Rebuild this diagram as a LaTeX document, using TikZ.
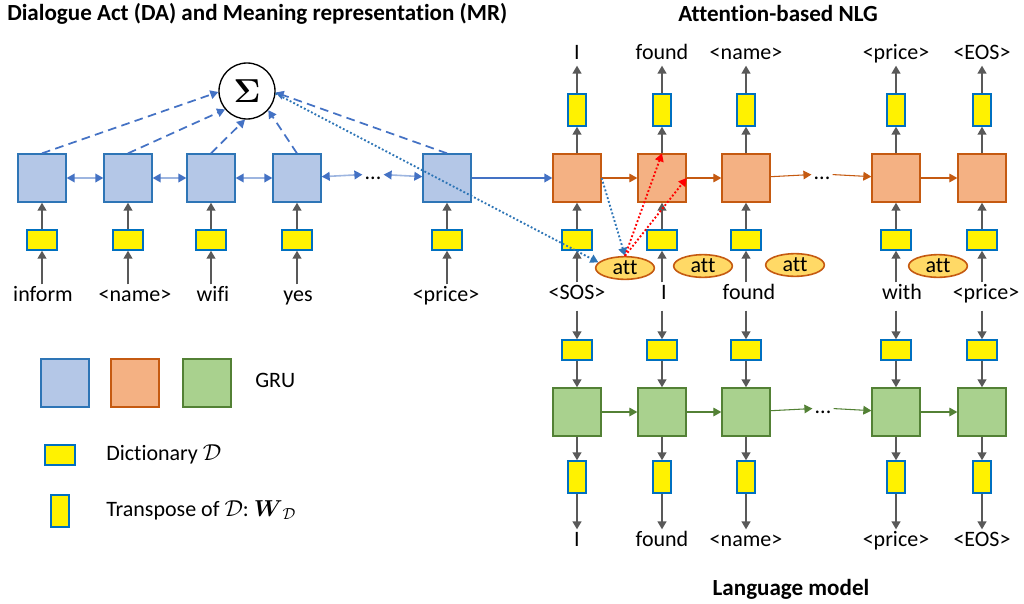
\documentclass[tikz,border=0pt]{standalone}
\usepackage{amsmath}
\usepackage{fontspec}
\setmainfont{Carlito}[Ligatures=NoCommon]
\usetikzlibrary{arrows.meta,shapes.geometric}

\definecolor{gruBlue}{HTML}{B4C7E7}
\definecolor{gruBlueLine}{HTML}{2E75B6}
\definecolor{gruOrange}{HTML}{F4B183}
\definecolor{gruOrangeLine}{HTML}{C55A11}
\definecolor{gruGreen}{HTML}{A9D18E}
\definecolor{gruGreenLine}{HTML}{538135}
\definecolor{dictLine}{HTML}{0070C0}
\definecolor{attFill}{HTML}{FFD966}
\definecolor{arrGrey}{HTML}{595959}
\definecolor{arrBlue}{HTML}{4472C4}
\definecolor{linkBlue}{HTML}{9DB5E0}

\newcommand\wordfont{\fontsize{16.5}{18}\selectfont}
\newcommand\titlefont{\fontsize{17.3}{19}\selectfont\bfseries}

\tikzset{
  gru/.style={draw, line width=1.5pt, minimum size=35.5pt, inner sep=0pt},
  gruda/.style={gru, fill=gruBlue, draw=gruBlueLine},
  grunlg/.style={gru, fill=gruOrange, draw=gruOrangeLine},
  grulm/.style={gru, fill=gruGreen, draw=gruGreenLine},
  dict/.style={draw=dictLine, fill=yellow, line width=1.5pt, minimum width=22pt, minimum height=14.5pt, inner sep=0pt},
  dictT/.style={draw=dictLine, fill=yellow, line width=1.5pt, minimum width=14pt, minimum height=23.5pt, inner sep=0pt},
  att/.style={ellipse, draw=gruOrangeLine, fill=attFill, line width=1.2pt, minimum width=44pt, minimum height=17pt, inner sep=0pt, font=\wordfont},
  word/.style={font=\wordfont, inner sep=1.5pt, text height=11pt, text depth=3pt},
  title/.style={font=\titlefont, inner sep=0pt},
  sigma/.style={circle, draw, line width=1pt, fill=white, minimum size=42pt, inner sep=0pt, font=\fontsize{23}{23}\selectfont},
  io/.style={draw=arrGrey, line width=1.5pt, -{Triangle[length=6pt,width=6.5pt]}},
  lnk/.style={draw=linkBlue, line width=1.2pt, {Triangle[length=6pt,width=6.5pt,color=arrBlue]}-{Triangle[length=6pt,width=6.5pt,color=arrBlue]}},
  fwdnlg/.style={draw=gruOrangeLine, line width=0.8pt, -{Triangle[length=6pt,width=6.5pt]}},
  fwdlm/.style={draw=gruGreenLine, line width=0.8pt, -{Triangle[length=6pt,width=6.5pt]}},
  dsh/.style={draw=arrBlue, line width=1.3pt, dash pattern=on 6.5pt off 4pt, -{Triangle[length=6pt,width=6.5pt]}},
  dtblue/.style={draw=gruBlueLine, line width=1.4pt, dash pattern=on 1.4pt off 1.6pt, -{Triangle[length=6pt,width=6.5pt]}},
  dtred/.style={draw=red, line width=1.4pt, dash pattern=on 1.4pt off 1.6pt, -{Triangle[length=6pt,width=6.5pt]}}
}

\begin{document}
\begin{tikzpicture}[x=0.75pt, y=-0.75pt]
  \useasboundingbox (0,0) rectangle (1024,603);

  % titles
  \node[title, anchor=west] (tda) at (7,14) {Dialogue Act (DA) and Meaning representation (MR)};
  \node[title] (tnlg) at (778,13) {Attention-based NLG};
  \node[title] (tlm) at (791,589) {Language model};

  % encoder over the DA and MR
  \foreach \i/\x/\w/\wx in {1/42/inform/43, 2/128/<name>/135, 3/211/wifi/213, 4/297/yes/298, 5/447/<price>/446} {
    \node[gruda] (b\i) at (\x,178) {};
    \node[dict] (bd\i) at (\x,240) {};
    \node[word] (bw\i) at (\wx,296) {\w};
    \draw[io] (bw\i.north -| bd\i) -- (bd\i);
    \draw[io] (bd\i) -- (b\i);
  }
  \node[word] (bdots) at (373,174) {...};
  \draw[lnk] (b1) -- (b2);
  \draw[lnk] (b2) -- (b3);
  \draw[lnk] (b3) -- (b4);
  \draw[lnk] (b4) -- (bdots);
  \draw[lnk] (bdots) -- (b5);

  % sum
  \node[sigma] (sig) at (247,91) {$\boldsymbol{\Sigma}$};
  \draw[dsh] (b1.north) -- (sig.182);
  \draw[dsh] (b2.north) -- (sig.220);
  \draw[dsh] (b3.north) -- (sig.266);
  \draw[dsh] (b4.north) -- (sig.-42);
  \draw[dsh] (b5.north) -- (sig.-3);

  % decoder and language model
  \foreach \i/\x/\m/\mx/\o in {1/577/<SOS>/577/I, 2/662/I/664/found, 3/746/found/749/<name>, 4/896/with/902/<price>, 5/982/<price>/986/<EOS>} {
    \node[grunlg] (o\i) at (\x,178) {};
    \node[dict] (od\i) at (\x,240) {};
    \node[dictT] (ot\i) at (\x,110) {};
    \node[word] (ow\i) at (\x,54) {\o};
    \node[word] (mw\i) at (\mx,294) {\m};
    \node[dict] (gd\i) at (\x,350) {};
    \node[grulm] (g\i) at (\x,412) {};
    \node[dictT] (gt\i) at (\x,477) {};
    \node[word] (lw\i) at (\x,541) {\o};
    \draw[io] (mw\i.north -| od\i) -- (od\i);
    \draw[io] (od\i) -- (o\i);
    \draw[io] (o\i) -- (ot\i);
    \draw[io] (ot\i) -- (ow\i.south -| ot\i);
    \draw[io] (mw\i.south -| gd\i) ++(0,5) -- (gd\i);
    \draw[io] (gd\i) -- (g\i);
    \draw[io] (g\i) -- (gt\i);
    \draw[io] (gt\i) -- (lw\i.north -| gt\i);
  }
  \node[word] (odots) at (822,174) {...};
  \node[word] (gdots) at (823,408) {...};
  \draw[draw=arrBlue, line width=1.3pt, -{Triangle[length=6pt,width=6.5pt]}] (b5) -- (o1);
  \draw[fwdnlg] (o1) -- (o2);
  \draw[fwdnlg] (o2) -- (o3);
  \draw[fwdnlg] (o3) -- (odots);
  \draw[fwdnlg] (odots) -- (o4);
  \draw[fwdnlg] (o4) -- (o5);
  \draw[fwdlm] (g1) -- (g2);
  \draw[fwdlm] (g2) -- (g3);
  \draw[fwdlm] (g3) -- (gdots);
  \draw[fwdlm] (gdots) -- (g4);
  \draw[fwdlm] (g4) -- (g5);

  % attention
  \node[att] (att1) at (625,268) {att};
  \node[att] (att2) at (703,266) {att};
  \node[att] (att3) at (795,265) {att};
  \node[att] (att4) at (938,266) {att};
  \draw[dtblue] (sig.-5) -- (att1.168);
  \draw[dtblue] (o1.east) -- (att1.north);
  \draw[dtred] (att1.north) -- (o2.north);
  \draw[dtred] (att1.north) -- (o2.east);

  % legend
  \node[gruda] (lgb) at (65,383) {};
  \node[grunlg] (lgo) at (135,383) {};
  \node[grulm] (lgg) at (207,383) {};
  \node[word, anchor=west] (lgt) at (253,382) {GRU};
  \node[dict] (lgd) at (60,455) {};
  \node[word, anchor=west] (lgdt) at (104,455) {Dictionary $\mathcal{D}$};
  \node[dictT] (lgw) at (60,511) {};
  \node[word, anchor=west] (lgwt) at (104,511) {Transpose of $\mathcal{D}$:~$\boldsymbol{W}_{\mathcal{D}}$};
\end{tikzpicture}
\end{document}
